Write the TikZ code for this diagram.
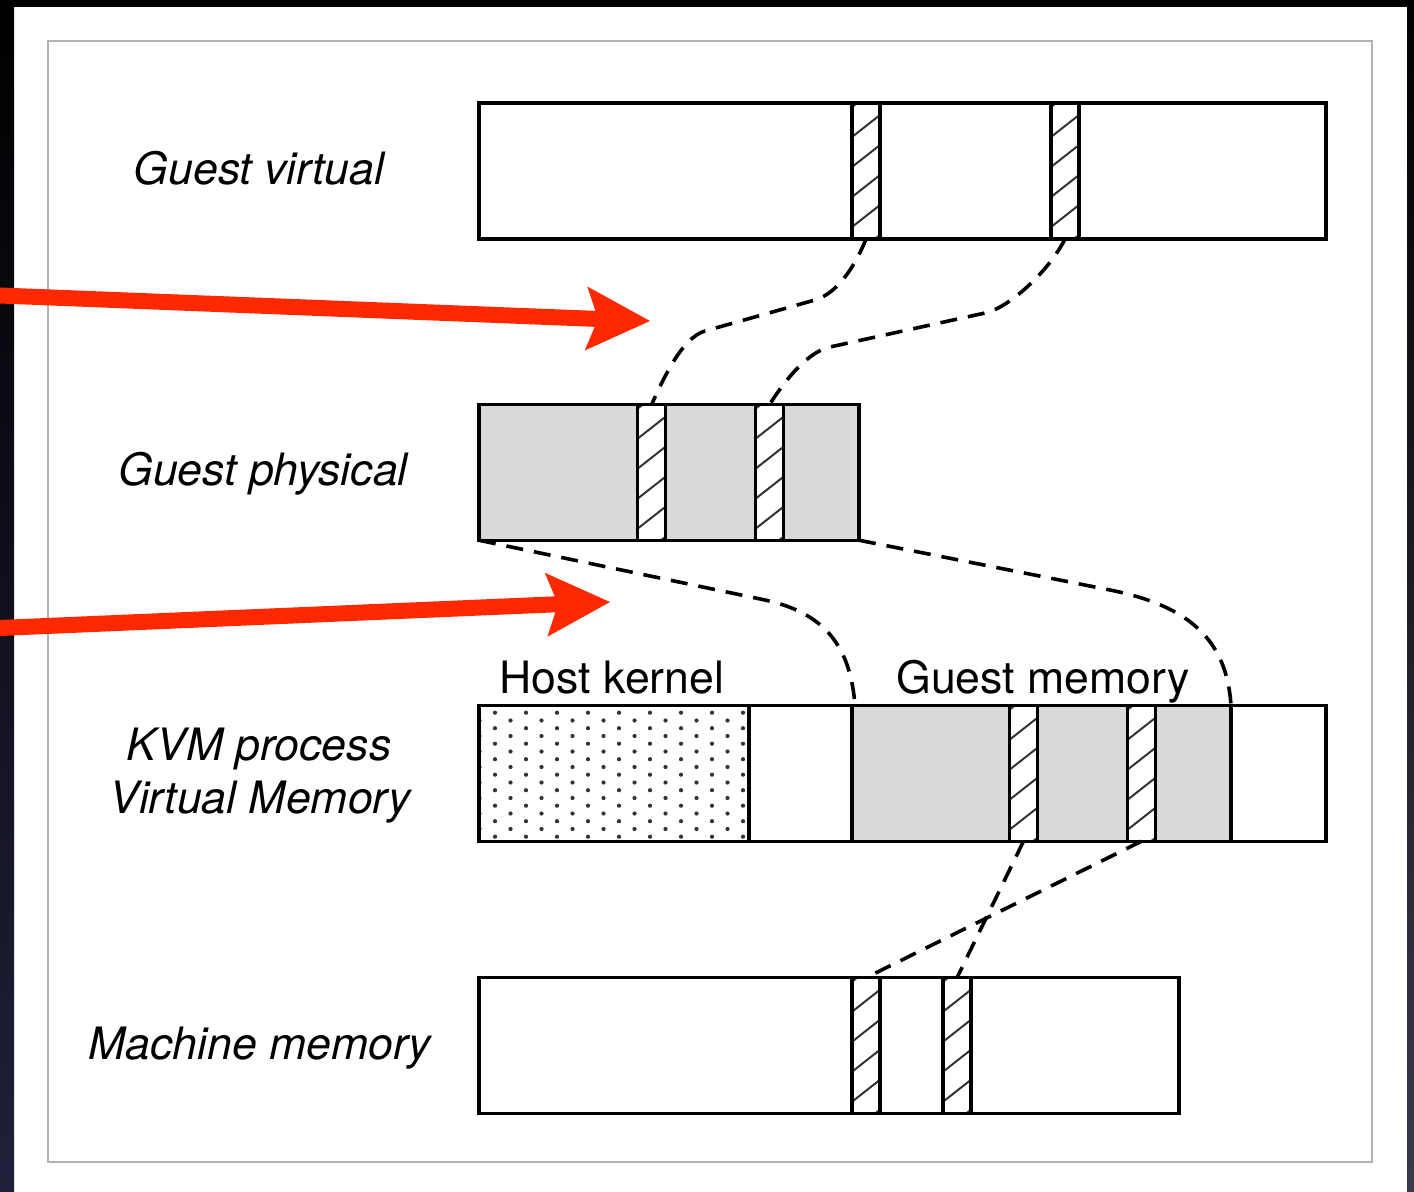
\documentclass[tikz,border=0pt]{standalone}
\usepackage{fontspec}
\setmainfont{TeX Gyre Heros}
\usetikzlibrary{arrows.meta}

\definecolor{arrowred}{RGB}{255,40,0}
\definecolor{memgray}{RGB}{217,217,217}
\definecolor{edgenavy}{RGB}{32,32,58}
\definecolor{edgeslate}{RGB}{58,58,78}

\begin{document}
\begin{tikzpicture}[x=0.5pt,y=-0.5pt,
  bar/.style={draw, line width=1.6pt, inner sep=0pt, outer sep=0pt, minimum height=67.75pt},
  hatchline/.style={black!80, line width=1pt},
  strip/.style={bar, fill=white, minimum width=14pt,
    path picture={
      \foreach \k in {4,34,64,94,124,154}{
        \draw[hatchline] ([yshift=-\k*0.5pt]path picture bounding box.north west) -- ++(28,-22);
      }}},
  dotc/.style={fill=black!80},
  link/.style={draw, line width=1.8pt, dash pattern=on 8.5pt off 5.5pt},
  redarrow/.style={arrowred, line width=8pt,
    -{Stealth[length=32pt, width=32pt, inset=6pt, line width=0pt]}},
  rowtext/.style={font=\fontsize{22.3pt}{26.5pt}\selectfont\itshape, anchor=base, inner sep=0pt},
  regiontext/.style={font=\fontsize{22.3pt}{26.5pt}\selectfont, anchor=base, inner sep=0pt}
]
\clip (0,0) rectangle (1414,1192);
\useasboundingbox (0,0) rectangle (1414,1192);

% page frame
\fill[white] (0,0) rectangle (1414,1192);
\shade[top color=black, bottom color=edgenavy] (0,0) rectangle (14,1192);
\shade[top color=black, bottom color=edgeslate] (1407,0) rectangle (1414,1192);
\fill[black] (0,0) rectangle (1414,7);
\draw[black!30, line width=0.8pt] (48,41) rectangle (1372,1162);

% row labels
\node[rowtext] (lgv) at (259,185) {Guest virtual};
\node[rowtext] (lgp) at (263,486) {Guest physical};
\node[rowtext] (lkvm1) at (259,760) {KVM process};
\node[rowtext] (lkvm2) at (260,813) {Virtual Memory};
\node[rowtext] (lmm) at (260,1059) {Machine memory};

% guest virtual address space
\node[bar, fill=white, minimum width=423.5pt, minimum height=68pt] (gv) at (902.5,171) {};
\node[strip, minimum height=68pt] (gv1) at (866,171) {};
\node[strip, minimum height=68pt] (gv2) at (1065,171) {};

% guest physical address space
\node[bar, fill=memgray, minimum width=190pt] (gp) at (669,472.5) {};
\node[strip] (gp1) at (651.5,472.5) {};
\node[strip] (gp2) at (769.5,472.5) {};

% KVM process virtual memory
\node[bar, fill=white, minimum width=423.5pt] (kvm) at (902.5,773.5) {};
\node[bar, fill=white, minimum width=135pt] (hk) at (614,773.5) {};
\begin{scope}
  \clip (hk.north west) rectangle (hk.south east);
  \foreach \j in {0,...,8}
    \foreach \i in {0,...,8}
      \fill[dotc] (495+31*\i, 712.7+15.5*\j) circle[radius=1.05pt];
  \foreach \j in {0,...,7}
    \foreach \i in {-1,...,7}
      \fill[dotc] (510.5+31*\i, 720.5+15.5*\j) circle[radius=1.05pt];
\end{scope}
\draw[line width=1.6pt] (hk.north west) rectangle (hk.south east);
\node[bar, fill=memgray, minimum width=189.5pt] (gm) at (1041.5,773.5) {};
\node[strip] (km1) at (1023.5,773.5) {};
\node[strip] (km2) at (1141.5,773.5) {};
\node[regiontext] (lhk) at (612,693) {Host kernel};
\node[regiontext] (lgm) at (1043,693) {Guest memory};

% machine memory
\node[bar, fill=white, minimum width=350pt] (mm) at (829,1045.5) {};
\node[strip] (mm1) at (866,1045.5) {};
\node[strip] (mm2) at (957,1045.5) {};

% mappings between the layers
\draw[link] (gv1.south) .. controls (857,262) and (839,293) .. (815,300)
  -- (705,331) .. controls (681,338) and (662,382) .. (gp1.north);
\draw[link] (gv2.south) .. controls (1049,271) and (1009,308) .. (985,313)
  -- (830,347) .. controls (806,352) and (781,386) .. (gp2.north);
\draw[link] (gp.south west) -- (765,600)
  .. controls (823,612.6) and (850.4,644.4) .. ([xshift=1.5pt]gm.north west);
\draw[link] (gp.south east) -- (1110,590)
  .. controls (1190.5,606) and (1227,641) .. (gm.north east);
\draw[link] (km1.south) -- (mm2.north);
\draw[link] (km2.south) -- (mm1.north);

% red pointers
\coordinate (ra1s) at (-10,295.1);
\coordinate (ra1t) at (650,321);
\coordinate (ra2s) at (-10,628.4);
\coordinate (ra2t) at (610,602);
\draw[redarrow] (ra1s) -- (ra1t);
\draw[redarrow] (ra2s) -- (ra2t);
\end{tikzpicture}
\end{document}
